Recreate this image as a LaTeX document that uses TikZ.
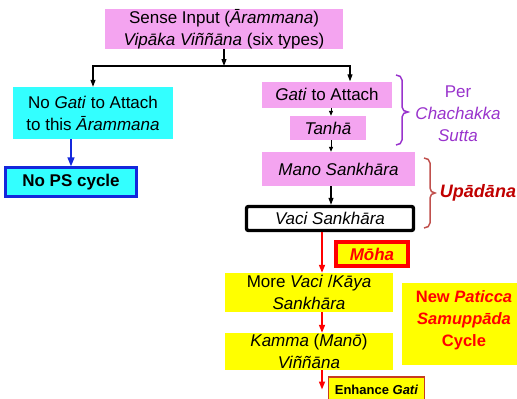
\documentclass[tikz,border=0pt]{standalone}
\usepackage{fontspec}
\setmainfont{Liberation Sans}
\usetikzlibrary{arrows.meta}

\definecolor{boxPink}{RGB}{244,164,240}
\definecolor{boxCyan}{RGB}{51,255,255}
\definecolor{boxYellow}{RGB}{255,255,0}
\definecolor{edgeBlue}{RGB}{20,40,220}
\definecolor{braceViolet}{RGB}{153,51,204}
\definecolor{braceRed}{RGB}{192,80,77}
\definecolor{textRed}{RGB}{192,0,0}
\definecolor{edgeOrange}{RGB}{200,60,30}

\begin{document}
\begin{tikzpicture}[x=1pt, y=-1pt,
        box/.style={inner sep=0pt, align=center, font=\fontsize{17}{22}\selectfont},
        pinkBox/.style={box, fill=boxPink},
        cyanBox/.style={box, fill=boxCyan},
        yellowBox/.style={box, fill=boxYellow},
        arrBlack/.style={line width=1.1pt, -{Triangle[length=7pt,width=5pt]}},
        arrSmall/.style={line width=0.8pt, -{Triangle[length=5pt,width=4pt]}},
        arrBlue/.style={line width=1.6pt, draw=edgeBlue, -{Triangle[length=9pt,width=7pt]}},
        arrRed/.style={line width=1.6pt, draw=red, -{Triangle[length=8pt,width=6pt]}}]

        \useasboundingbox (0,0) rectangle (517,399);
        \clip (0,0) rectangle (517,399);

        \node[pinkBox, minimum width=238pt, minimum height=40pt] (input) at (224,29)
            {Sense Input (\textit{Ārammana})\\ \textit{Vipāka Viññāna} (six types)};

        \node[cyanBox, minimum width=160pt, minimum height=52pt] (noGati) at (93,113)
            {No \textit{Gati} to Attach\\ to this \textit{Ārammana}};
        \node[cyanBox, draw=edgeBlue, line width=2.4pt, minimum width=131pt, minimum height=29pt,
            font=\fontsize{17}{22}\selectfont\bfseries] (noPS) at (71,182) {No PS cycle};

        \node[pinkBox, minimum width=130pt, minimum height=26pt] (gati) at (327,94.5) {\textit{Gati} to Attach};
        \node[pinkBox, minimum width=76pt, minimum height=24pt] (tanha) at (328,128) {\textit{Tanhā}};
        \node[pinkBox, minimum width=153pt, minimum height=34pt] (mano) at (338.5,169) {\textit{Mano Sankhāra}};
        \node[box, fill=white, draw=black, line width=3.4pt, rounded corners=2pt,
            minimum width=167pt, minimum height=24pt] (vaci) at (330,218.5) {\textit{Vaci Sankhāra}};
        \node[yellowBox, draw=red, line width=3.4pt, minimum width=72pt, minimum height=24pt,
            text=red, font=\fontsize{17}{22}\selectfont\bfseries\itshape] (moha) at (372,254) {Mōha};

        \node[yellowBox, minimum width=168pt, minimum height=39pt] (more) at (309,292.5)
            {More \textit{Vaci} /\textit{Kāya}\\ \textit{Sankhāra}};
        \node[yellowBox, minimum width=168pt, minimum height=37pt] (kamma) at (309,351.5)
            {\textit{Kamma} (\textit{Manō})\\ \textit{Viññāna}};
        \node[yellowBox, draw=edgeOrange, line width=1.4pt, minimum width=96pt, minimum height=25pt,
            font=\fontsize{13}{16}\selectfont\bfseries] (enhance) at (376.5,389.5) {Enhance \textit{Gati}};

        \node[yellowBox, minimum width=120pt, minimum height=82pt] (newCycle) at (462,324) {};
        \node[box, text=red, font=\fontsize{16.5}{22}\selectfont\bfseries] (newCycleText) at (464,320)
            {New \textit{Paticca}\\ \textit{Samuppāda}\\ Cycle};

        \node[box, text=braceViolet] (chachakka) at (458,114) {Per\\ \textit{Chachakka}\\ \textit{Sutta}};
        \node[box, text=textRed, font=\fontsize{18}{22}\selectfont\bfseries\itshape] (upadana) at (478,193) {Upādāna};

        % split below the sense input
        \coordinate (split) at (224,66);
        \coordinate (axisPink) at (331,0);
        \coordinate (axisRed) at (322,0);
        \draw[arrBlack] (input.south) -- (split);
        \draw[arrBlack] (split) -| (noGati.north);
        \draw[arrBlack] (split) -| ([xshift=23pt]gati.north);
        \draw[arrBlue] (noGati.south -| noPS.north) -- (noPS.north);

        \draw[arrSmall] (gati.south -| axisPink) -- (tanha.north -| axisPink);
        \draw[arrSmall] (tanha.south -| axisPink) -- (mano.north -| axisPink);
        \draw[arrBlack] (mano.south -| axisPink) -- (vaci.north -| axisPink);
        \draw[arrRed] (vaci.south -| axisRed) -- (more.north -| axisRed);
        \draw[arrRed] (more.south -| axisRed) -- (kamma.north -| axisRed);
        \draw[arrRed] (kamma.south -| axisRed) -- (enhance.west -| axisRed);

        % braces
        \draw[braceViolet, line width=1.5pt] (396,75) to[out=0,in=90] (402,80) -- (402,107)
            to[out=-90,in=180] (408,112) to[out=180,in=90] (402,117) -- (402,140) to[out=-90,in=0] (396,145);
        \draw[braceRed, line width=1.5pt] (424,158) to[out=0,in=90] (430,163) -- (430,188)
            to[out=-90,in=180] (435,193) to[out=180,in=90] (430,198) -- (430,223) to[out=-90,in=0] (424,228);
\end{tikzpicture}
\end{document}
